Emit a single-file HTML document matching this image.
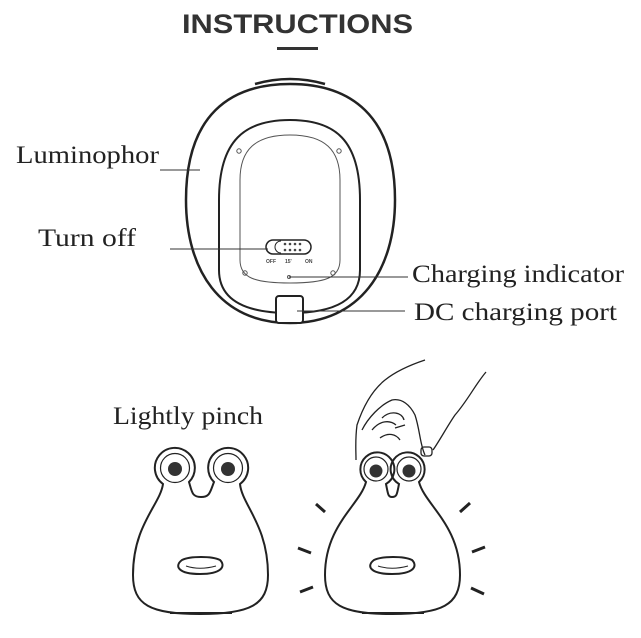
<!DOCTYPE html>
<html><head><style>body{margin:0;background:#fff}svg{display:block}</style></head><body>
<svg width="641" height="638" viewBox="0 0 641 638" xmlns="http://www.w3.org/2000/svg">
<rect width="641" height="638" fill="#fff"/>
<text x="182" y="33" textLength="231" lengthAdjust="spacingAndGlyphs" font-family="Liberation Sans, sans-serif" font-weight="bold" font-size="27" fill="#333">INSTRUCTIONS</text>
<rect x="277" y="47" width="41" height="3" fill="#333"/>
<g fill="none" stroke="#222" stroke-width="2.5">
<path d="M255 84 Q290 74 325 84"/>
<path d="M290 84 C350 84 395 115 395 200 C395 270 360 323 290 323 C220 323 186 270 186 200 C186 115 230 84 290 84Z"/>
<path d="M290 120 C335 120 360 140 360 200 L360 270 C360 300 335 313 290 313 C245 313 219 300 219 270 L219 200 C219 140 245 120 290 120Z" stroke-width="2"/>
<rect x="276" y="296" width="27" height="27" rx="3" fill="#fff" stroke-width="2"/>
</g>
<g fill="none" stroke="#555" stroke-width="1">
<path d="M290 135 C325 135 340 150 340 180 L340 260 C340 278 325 283 290 283 C255 283 240 278 240 260 L240 180 C240 150 255 135 290 135Z"/>
<circle cx="239" cy="151" r="2.2"/><circle cx="339" cy="151" r="2.2"/>
<circle cx="245" cy="273" r="2.2"/><circle cx="333" cy="273" r="2.2"/>
<circle cx="289" cy="277" r="1.5"/>
</g>
<rect x="266" y="240" width="45" height="14" rx="7" fill="#fff" stroke="#222" stroke-width="1.5"/>
<path d="M281 241 A6 6 0 0 0 281 253" fill="none" stroke="#222" stroke-width="1"/>
<g fill="#444"><circle cx="285" cy="244" r="1.3"/><circle cx="290" cy="244" r="1.3"/><circle cx="295" cy="244" r="1.3"/><circle cx="300" cy="244" r="1.3"/><circle cx="285" cy="250" r="1.3"/><circle cx="290" cy="250" r="1.3"/><circle cx="295" cy="250" r="1.3"/><circle cx="300" cy="250" r="1.3"/></g>
<text font-family="Liberation Sans, sans-serif" font-size="5" font-weight="bold" fill="#444"><tspan x="266" y="263">OFF</tspan><tspan x="285" y="263">15'</tspan><tspan x="305" y="263">ON</tspan></text>
<g stroke="#333" stroke-width="1">
<line x1="160" y1="170" x2="200" y2="170"/>
<line x1="170" y1="249" x2="268" y2="249"/>
<line x1="289" y1="277" x2="408" y2="277"/>
<line x1="297" y1="311" x2="405" y2="311"/>
</g>
<g font-family="Liberation Serif, serif" font-size="25" fill="#222">
<text x="16" y="163" textLength="143" lengthAdjust="spacingAndGlyphs">Luminophor</text>
<text x="38" y="246" textLength="98" lengthAdjust="spacingAndGlyphs">Turn off</text>
<text x="412" y="282" textLength="212" lengthAdjust="spacingAndGlyphs">Charging indicator</text>
<text x="414" y="320" textLength="203" lengthAdjust="spacingAndGlyphs">DC charging port</text>
<text x="113" y="424" textLength="150" lengthAdjust="spacingAndGlyphs">Lightly pinch</text>
</g>
<g fill="none" stroke="#222" stroke-width="2">
<path d="M163 484 A20 20 0 1 1 189 482 C192 492 192 497 201 497 C210 497 210 492 214 482 A20 20 0 1 1 240 484 C242 505 268 525 268 575 C268 605 250 614 200 614 C150 614 133 605 133 575 C133 525 160 505 163 484Z"/>
<line x1="170" y1="613" x2="232" y2="613"/>
<path d="M182 560 C190 556 212 556 220 560 C226 566 222 574 200 574 C178 574 174 566 182 560Z"/>
<path d="M186 566 C195 569 205 569 216 566" stroke-width="1"/>
<circle cx="175" cy="468" r="14.5" stroke-width="1.2"/><circle cx="228" cy="468" r="14.5" stroke-width="1.2"/>
<path d="M366 482 A17 17 0 1 1 386 484 C388 494 388 497 392 497 C397 497 397 494 399 484 A17 17 0 1 1 419 482 C425 505 460 525 460 575 C460 605 442 614 392 614 C342 614 325 605 325 575 C325 525 360 505 366 482Z"/>
<line x1="362" y1="613" x2="424" y2="613"/>
<path d="M374 560 C382 556 404 556 412 560 C418 566 414 574 392 574 C370 574 366 566 374 560Z"/>
<path d="M378 566 C387 569 397 569 408 566" stroke-width="1"/>
<circle cx="376" cy="469" r="12" stroke-width="1.2"/><circle cx="409" cy="469" r="12" stroke-width="1.2"/>
<line x1="316" y1="504" x2="325" y2="512" stroke-width="3"/>
<line x1="298" y1="548" x2="311" y2="553" stroke-width="3"/>
<line x1="300" y1="592" x2="313" y2="587" stroke-width="3"/>
<line x1="460" y1="512" x2="470" y2="503" stroke-width="3"/>
<line x1="472" y1="552" x2="485" y2="547" stroke-width="3"/>
<line x1="471" y1="588" x2="484" y2="594" stroke-width="3"/>
</g>
<g fill="#333"><circle cx="175" cy="469" r="7"/><circle cx="228" cy="469" r="7"/><circle cx="376" cy="471" r="6.5"/><circle cx="409" cy="471" r="6.5"/></g>
<g fill="none" stroke="#222" stroke-width="1.3">
<path d="M425 360 C410 365 395 372 385 380 C370 392 362 410 357 425 C355 440 356 450 356 460"/>
<path d="M486 372 C475 385 468 400 455 415 C448 425 440 440 433 450"/>
<path d="M362 430 C368 418 380 405 392 400 C402 398 410 405 415 415 C420 430 420 445 425 455"/>
<path d="M372 430 C380 420 390 420 396 425 M382 418 C390 410 402 412 404 420 M380 438 C388 432 396 434 400 440 M395 428 L405 425"/>
<rect x="421" y="447" width="11" height="9" rx="3"/>
</g>
</svg>
</body></html>
